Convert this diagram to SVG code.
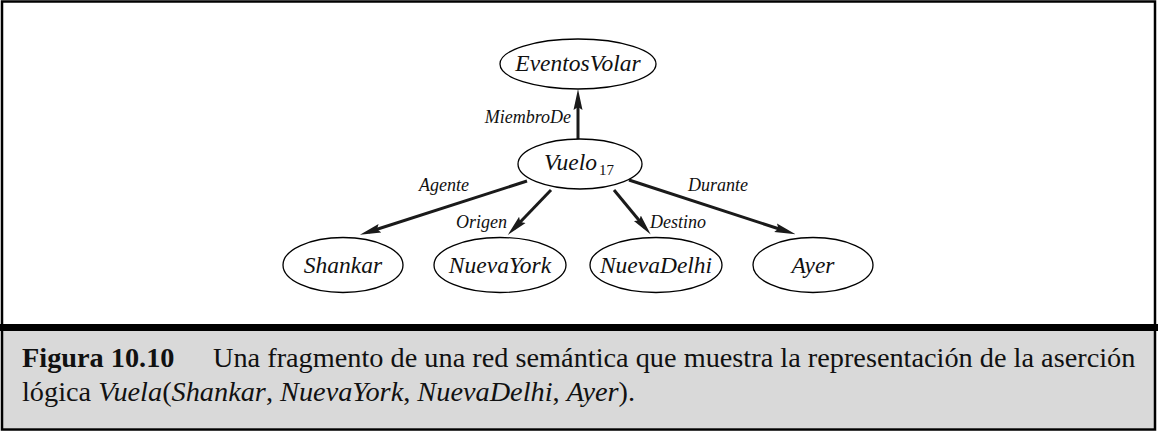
<svg xmlns="http://www.w3.org/2000/svg" width="1158" height="432" viewBox="0 0 1158 432">
<style>
.node ellipse{fill:#fff;stroke:#000;stroke-width:1.3}
.nt{font-family:"Liberation Serif","Times New Roman",serif;font-style:italic;font-size:23.5px;fill:#111;text-anchor:middle}
.sub{font-family:"Liberation Serif","Times New Roman",serif;font-size:15px;fill:#111}
.el{font-family:"Liberation Serif","Times New Roman",serif;font-style:italic;font-size:18px;fill:#111}
.edge{stroke:#1a1a1a;stroke-width:3;fill:none;marker-end:url(#ah)}
.cap{font-family:"Liberation Serif","Times New Roman",serif;font-size:28.3px;fill:#111}
.it{font-style:italic}
</style>
<defs>
<marker id="ah" markerUnits="userSpaceOnUse" markerWidth="21" markerHeight="11" refX="12" refY="5.5" orient="auto" viewBox="0 0 21 11">
<path d="M0,1 L21,5.5 L0,10 L3,5.5 z" fill="#1a1a1a"/>
</marker>
</defs>
<rect x="0" y="0" width="1158" height="432" fill="#fff"/>
<rect x="3" y="331" width="1151" height="97" fill="#d9d9d9"/>
<rect x="2" y="1.5" width="1153" height="428" fill="none" stroke="#000" stroke-width="2.5"/>
<rect x="0" y="324" width="1158" height="7" fill="#000"/>

<g id="connectors">
<line class="edge" x1="578" y1="139" x2="578" y2="98"/>
<line class="edge" x1="527" y1="181" x2="368.5" y2="232"/>
<line class="edge" x1="551" y1="190" x2="514" y2="228.5"/>
<line class="edge" x1="614" y1="190" x2="645" y2="227.5"/>
<line class="edge" x1="629" y1="180" x2="787" y2="231.5"/>
</g>
<g id="edge-labels">
<text class="el" x="571" y="123" text-anchor="end">MiembroDe</text>
<text class="el" x="419" y="191">Agente</text>
<text class="el" x="456" y="228">Origen</text>
<text class="el" x="650" y="228">Destino</text>
<text class="el" x="688" y="191">Durante</text>
</g>

<g id="EventosVolar" class="node">
<ellipse cx="578" cy="64" rx="78" ry="25"/>
<text class="nt" x="578" y="71">EventosVolar</text>
</g>
<g id="Vuelo17" class="node">
<ellipse cx="580" cy="164" rx="62" ry="25"/>
<text class="nt" x="579" y="170">Vuelo<tspan class="sub" dx="2" dy="5" font-style="normal">17</tspan></text>
</g>
<g id="Shankar" class="node">
<ellipse cx="343" cy="265" rx="60" ry="27.5"/>
<text class="nt" x="343" y="273">Shankar</text>
</g>
<g id="NuevaYork" class="node">
<ellipse cx="500" cy="265" rx="66" ry="27.5"/>
<text class="nt" x="500" y="273">NuevaYork</text>
</g>
<g id="NuevaDelhi" class="node">
<ellipse cx="656" cy="265" rx="66" ry="27.5"/>
<text class="nt" x="656" y="273">NuevaDelhi</text>
</g>
<g id="Ayer" class="node">
<ellipse cx="813" cy="265" rx="60" ry="27.5"/>
<text class="nt" x="813" y="273">Ayer</text>
</g>

<g id="caption">
<text class="cap" x="22" y="367"><tspan font-weight="bold">Figura 10.10</tspan></text>
<text class="cap" x="213" y="367">Una fragmento de una red semántica que muestra la representación de la aserción</text>
<text class="cap" x="22" y="401">lógica <tspan class="it">Vuela</tspan>(<tspan class="it">Shankar</tspan>, <tspan class="it">NuevaYork</tspan>, <tspan class="it">NuevaDelhi</tspan>, <tspan class="it">Ayer</tspan>).</text>
</g>
</svg>
